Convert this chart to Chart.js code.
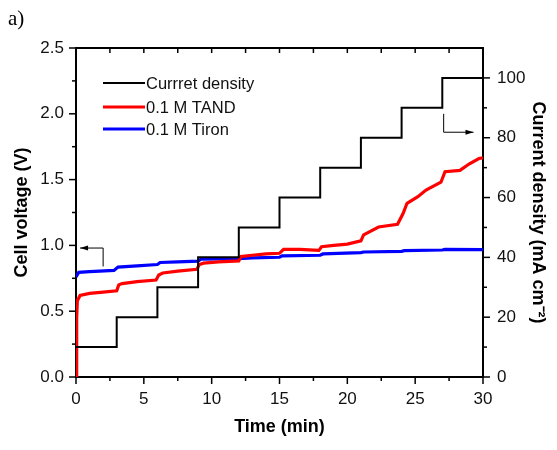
<!DOCTYPE html>
<html>
<head>
<meta charset="utf-8">
<script src="https://cdn.jsdelivr.net/npm/chart.js@4/dist/chart.umd.min.js"></script>
<style>
    body { margin: 0; background: #fff; }
    #wrap { position: relative; width: 557px; height: 450px; }
    #panel { position: absolute; left: 8px; top: 6px; font: 21px "Liberation Serif", "Times New Roman", serif; color: #000; }
</style>
</head>
<body>
<div id="wrap">
    <canvas id="voltChart" width="557" height="450"></canvas>
    <div id="panel">a)</div>
</div>
<script>
// Escalones de densidad de corriente (mA cm-2)
const timeCurrent = [0, 3, 6, 9, 12, 15, 18, 21, 24, 27, 30];
const currentDensity = [10, 20, 30, 40, 50, 60, 70, 80, 90, 100, 100];

// Voltaje de celda 0.1 M TAND
const timeTand = [0, 0.05, 0.1, 0.3, 1, 2, 3.0, 3.15, 3.4, 4.5, 5.9, 6.1, 6.4, 7.5, 8.9, 9.1, 9.4, 10.5, 12.0, 12.15, 13, 14, 15.0, 15.3, 16.5, 17.9, 18.1, 19, 20, 21.0, 21.2, 22.3, 23.7, 24.1, 24.4, 25.2, 25.8, 26.9, 27.2, 28.3, 29.0, 29.7, 30];
const voltTand = [0, 0.45, 0.58, 0.62, 0.635, 0.645, 0.655, 0.70, 0.71, 0.725, 0.737, 0.775, 0.79, 0.805, 0.818, 0.855, 0.865, 0.875, 0.882, 0.915, 0.925, 0.935, 0.94, 0.97, 0.97, 0.962, 0.99, 1.0, 1.01, 1.035, 1.08, 1.14, 1.16, 1.24, 1.32, 1.37, 1.42, 1.48, 1.56, 1.57, 1.62, 1.66, 1.665];

// Voltaje de celda 0.1 M Tiron
const timeTiron = [0, 0.2, 1, 2.8, 3.1, 4.5, 6.0, 6.2, 7.5, 9.0, 9.2, 12, 13, 15, 15.2, 18, 18.2, 21, 21.2, 24, 24.2, 27, 27.2, 30];
const voltTiron = [0.76, 0.795, 0.80, 0.81, 0.835, 0.845, 0.855, 0.87, 0.875, 0.88, 0.895, 0.9, 0.905, 0.91, 0.92, 0.925, 0.935, 0.945, 0.95, 0.955, 0.96, 0.965, 0.97, 0.968];

const xTicks = [0, 5, 10, 15, 20, 25, 30];
const voltTicks = [0, 0.5, 1.0, 1.5, 2.0, 2.5];
const currentTicks = [0, 20, 40, 60, 80, 100];

const legendLabels = ['Currret density', '0.1 M TAND', '0.1 M Tiron'];

const FONT = 'Arial, "Liberation Sans", sans-serif';

function toPoints(xs, ys) {
    return xs.map((x, i) => ({ x: x, y: ys[i] }));
}

// Marcas mayores y menores, borde superior, flechas y leyenda
const decorPlugin = {
    id: 'decor',
    afterDraw(chart) {
        const { ctx, chartArea: a, scales } = chart;
        const x = scales.x, y = scales.y, y1 = scales.y1;
        ctx.save();
        ctx.strokeStyle = '#000';
        ctx.lineWidth = 1.5;
        const line = (x0, y0, x1, y1_) => {
            ctx.beginPath(); ctx.moveTo(x0, y0); ctx.lineTo(x1, y1_); ctx.stroke();
        };
        for (let t = 0; t <= 30; t += 2.5) {
            const px = x.getPixelForValue(t);
            line(px, a.bottom, px, a.bottom + (t % 5 === 0 ? 7 : 4));
            line(px, a.top, px, a.top + 5);
        }
        for (let v = 0; v <= 2.5001; v += 0.25) {
            const py = y.getPixelForValue(v);
            const major = Math.abs(v * 2 - Math.round(v * 2)) < 1e-6;
            line(a.left, py, a.left - (major ? 7 : 4), py);
        }
        for (let c = 0; c <= 100; c += 10) {
            const py = y1.getPixelForValue(c);
            line(a.right, py, a.right + (c % 20 === 0 ? 7 : 4), py);
        }
        ctx.lineWidth = 2;
        line(a.left - 1, a.top, a.right + 1, a.top);

        // Flechas indicando el eje
        ctx.lineWidth = 1;
        const arrow = (pts, dir) => {
            ctx.beginPath();
            ctx.moveTo(pts[0][0], pts[0][1]);
            for (let i = 1; i < pts.length; i++) ctx.lineTo(pts[i][0], pts[i][1]);
            ctx.stroke();
            const [hx, hy] = pts[pts.length - 1];
            ctx.beginPath();
            ctx.moveTo(hx, hy);
            ctx.lineTo(hx - dir * 8, hy - 2.5);
            ctx.lineTo(hx - dir * 8, hy + 2.5);
            ctx.closePath();
            ctx.fillStyle = '#000';
            ctx.fill();
        };
        arrow([[x.getPixelForValue(2.0), y.getPixelForValue(0.84)],
               [x.getPixelForValue(2.0), y.getPixelForValue(0.98)],
               [x.getPixelForValue(0.3), y.getPixelForValue(0.98)]], -1);
        arrow([[x.getPixelForValue(27.1), y.getPixelForValue(2.0)],
               [x.getPixelForValue(27.1), y.getPixelForValue(1.86)],
               [x.getPixelForValue(29.3), y.getPixelForValue(1.86)]], 1);

        // Leyenda dentro del área
        const rows = [83, 107, 129];
        const ds = chart.data.datasets;
        ctx.font = '16.5px ' + FONT;
        ctx.textBaseline = 'middle';
        ctx.fillStyle = '#111';
        rows.forEach((ry, i) => {
            ctx.strokeStyle = ds[i].borderColor;
            ctx.lineWidth = ds[i].borderWidth;
            line(103, ry, 145, ry);
            ctx.fillText(legendLabels[i], 146, ry + 1);
        });
        ctx.restore();
    }
};

function initializeChart() {
    const ctx = document.getElementById('voltChart');
    new Chart(ctx, {
        type: 'line',
        data: {
            datasets: [{
                label: legendLabels[0],
                data: toPoints(timeCurrent, currentDensity),
                yAxisID: 'y1',
                borderColor: '#000000',
                borderWidth: 2,
                stepped: 'before',
                pointRadius: 0,
                tension: 0
            }, {
                label: legendLabels[1],
                data: toPoints(timeTand, voltTand),
                yAxisID: 'y',
                borderColor: '#ff0000',
                borderWidth: 3.2,
                pointRadius: 0,
                tension: 0
            }, {
                label: legendLabels[2],
                data: toPoints(timeTiron, voltTiron),
                yAxisID: 'y',
                borderColor: '#0000ff',
                borderWidth: 3.2,
                pointRadius: 0,
                tension: 0
            }]
        },
        options: {
            responsive: false,
            animation: false,
            layout: { padding: { top: 48, left: 0, right: 0, bottom: 0 } },
            plugins: {
                legend: { display: false },
                tooltip: { enabled: false }
            },
            scales: {
                x: {
                    type: 'linear',
                    min: 0,
                    max: 30,
                    afterBuildTicks: s => { s.ticks = xTicks.map(v => ({ value: v })); },
                    afterFit: s => { s.height = 73; },
                    ticks: { color: '#111', font: { family: FONT, size: 17 }, padding: 4, maxRotation: 0 },
                    grid: { display: false },
                    border: { color: '#000', width: 2 },
                    title: { display: true, text: 'Time (min)', color: '#000', font: { family: FONT, size: 18, weight: 'bold' }, padding: { bottom: 12 } }
                },
                y: {
                    min: 0,
                    max: 2.5,
                    afterBuildTicks: s => { s.ticks = voltTicks.map(v => ({ value: v })); },
                    afterFit: s => { s.width = 76; },
                    ticks: { color: '#111', font: { family: FONT, size: 17 }, padding: 4, callback: v => v.toFixed(1) },
                    grid: { display: false },
                    border: { color: '#000', width: 2 },
                    title: { display: true, text: 'Cell voltage (V)', color: '#000', font: { family: FONT, size: 18, weight: 'bold' }, padding: { top: 11 } }
                },
                y1: {
                    position: 'right',
                    min: 0,
                    max: 110,
                    afterBuildTicks: s => { s.ticks = currentTicks.map(v => ({ value: v })); },
                    afterFit: s => { s.width = 74; },
                    ticks: { color: '#111', font: { family: FONT, size: 17 }, padding: 6 },
                    grid: { display: false },
                    border: { color: '#000', width: 2 },
                    title: { display: true, text: 'Current density (mA cm⁻²)', color: '#000', font: { family: FONT, size: 18, weight: 'bold' }, padding: { top: 8 } }
                }
            }
        },
        plugins: [decorPlugin]
    });
}

document.addEventListener('DOMContentLoaded', initializeChart);
</script>
</body>
</html>
